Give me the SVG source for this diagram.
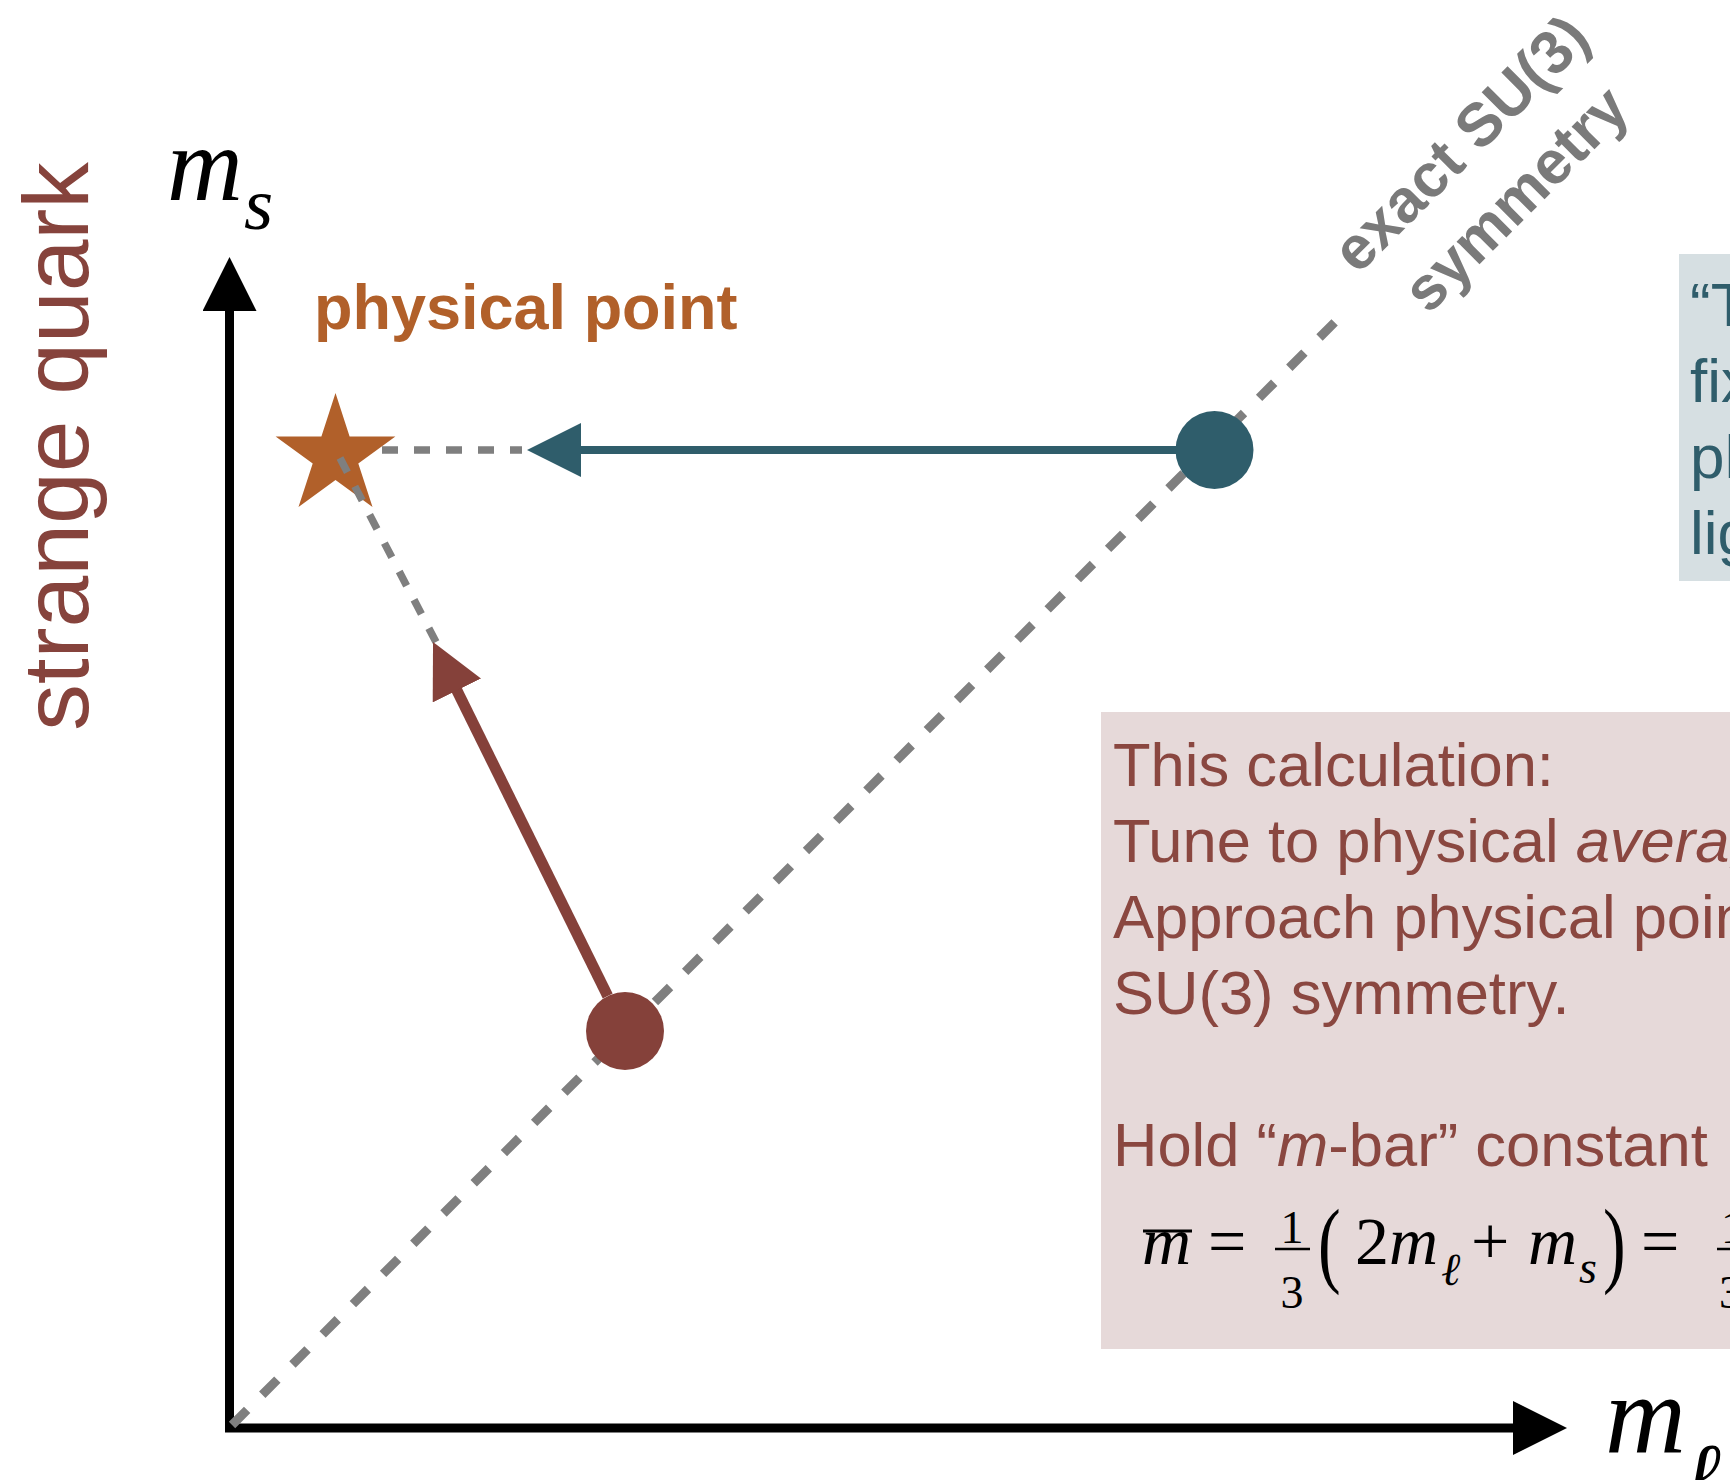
<svg xmlns="http://www.w3.org/2000/svg" width="1730" height="1480" viewBox="0 0 1730 1480">
<style>
.sans{font-family:"Liberation Sans",Arial,sans-serif}
.serif{font-family:"Liberation Serif","Times New Roman",serif}
.it{font-style:italic}
.pinkTxt{fill:#8A4740;font-size:61.5px}
.tealTxt{fill:#2F5D6B;font-size:62px}
.math{fill:#000}
.gdash{fill:none;stroke:#7F7F7F;stroke-width:7.5;stroke-dasharray:16 16}
</style>
<defs>
<marker id="ahBlack" markerUnits="userSpaceOnUse" viewBox="0 0 54 54" markerWidth="54" markerHeight="54" refX="10" refY="27" orient="auto-start-reverse"><path d="M0,0 L54,27 L0,54 Z" fill="#000"/></marker>
<marker id="ahTeal" markerUnits="userSpaceOnUse" viewBox="0 0 54 54" markerWidth="54" markerHeight="54" refX="10" refY="27" orient="auto"><path d="M0,0 L54,27 L0,54 Z" fill="#2F5D6B"/></marker>
<marker id="ahBrown" markerUnits="userSpaceOnUse" viewBox="0 0 54 54" markerWidth="54" markerHeight="54" refX="10" refY="27" orient="auto"><path d="M0,0 L54,27 L0,54 Z" fill="#85413A"/></marker>
</defs>
<rect width="1730" height="1480" fill="#fff"/>

<g id="axes">
<polyline points="229.5,301 229.5,1428 1523,1428" fill="none" stroke="#000" stroke-width="9" stroke-linejoin="miter" marker-start="url(#ahBlack)" marker-end="url(#ahBlack)"/>
</g>

<g id="label-strange-quark">
<text class="sans" transform="translate(88,446.5) rotate(-90)" text-anchor="middle" font-size="93" fill="#86433C">strange quark</text>
</g>

<g id="label-ms">
<text class="serif it math" x="167" y="200" font-size="105">m</text>
<text class="serif it math" x="244" y="229" font-size="75">s</text>
</g>

<g id="label-ml">
<text class="serif it math" x="1605" y="1453" font-size="112">m</text>
<text class="serif it math" x="1684" y="1504" font-size="88">ℓ</text>
</g>

<g id="su3-line">
<line x1="229" y1="1428" x2="1335.7" y2="321.3" stroke="#7F7F7F" stroke-width="9" stroke-dasharray="21.36 21.36" stroke-dashoffset="-4.3"/>
<g transform="translate(1490,173) rotate(-45)" class="sans" font-weight="bold" font-size="61" fill="#7A7A7A" text-anchor="middle">
<text x="0" y="-21">exact SU(3)</text>
<text x="0" y="57">symmetry</text>
</g>
</g>

<g id="note-traditional">
<rect x="1679" y="254" width="51" height="327" fill="#D6DFE2"/>
<g class="sans tealTxt">
<text x="1690" y="326">“T</text>
<text x="1690" y="402">fix</text>
<text x="1690" y="478">ph</text>
<text x="1690" y="554">lig</text>
</g>
</g>

<g id="note-this-calculation">
<rect x="1101" y="712" width="629" height="637" fill="#E6D9D9"/>
<g class="sans pinkTxt">
<text x="1113" y="786">This calculation:</text>
<text x="1113" y="862">Tune to physical <tspan class="it">averag</tspan></text>
<text x="1113" y="938">Approach physical poin</text>
<text x="1113" y="1014">SU(3) symmetry.</text>
<text x="1113" y="1166">Hold “<tspan class="it">m</tspan>-bar” constant</text>
</g>
<g class="serif math">
<text class="it" x="1142" y="1264" font-size="68">m</text>
<line x1="1143" y1="1231" x2="1192" y2="1231" stroke="#000" stroke-width="3"/>
<text x="1208" y="1264" font-size="68">=</text>
<text x="1292" y="1243" font-size="46" text-anchor="middle">1</text>
<line x1="1275" y1="1249" x2="1310" y2="1249" stroke="#000" stroke-width="2.5"/>
<text x="1292" y="1308" font-size="46" text-anchor="middle">3</text>
<text transform="translate(1318,1275) scale(1,1.4)" font-size="68">(</text>
<text x="1355" y="1264" font-size="68">2</text>
<text class="it" x="1389" y="1264" font-size="68">m</text>
<text class="it" x="1441" y="1285" font-size="46">ℓ</text>
<text x="1471" y="1264" font-size="68">+</text>
<text class="it" x="1528" y="1264" font-size="68">m</text>
<text class="it" x="1579" y="1283" font-size="46">s</text>
<text transform="translate(1603,1275) scale(1,1.4)" font-size="68">)</text>
<text x="1641" y="1264" font-size="68">=</text>
<text x="1721" y="1243" font-size="46">1</text>
<line x1="1717" y1="1249" x2="1760" y2="1249" stroke="#000" stroke-width="2.5"/>
<text x="1719" y="1308" font-size="46">3</text>
</g>
</g>

<g id="node-su3-start">
<circle cx="1214.5" cy="450" r="39" fill="#2F5D6B"/>
</g>

<g id="node-mbar-start">
<circle cx="625" cy="1031" r="39" fill="#85413A"/>
</g>

<g id="node-physical-point">
<polygon points="335.5,393 349.6,436.6 395.4,436.5 358.3,463.4 372.5,507 335.5,480 298.5,507 312.7,463.4 275.6,436.5 321.4,436.6" fill="#B1602A"/>
<text class="sans" x="314" y="329" font-size="63" font-weight="bold" fill="#B1602A">physical point</text>
</g>

<g id="connectors">
<line x1="380" y1="450" x2="522" y2="450" class="gdash" stroke-dashoffset="-2"/>
<line x1="340" y1="458" x2="436" y2="642" class="gdash"/>
<line x1="1176" y1="450" x2="571" y2="450" stroke="#2F5D6B" stroke-width="8" marker-end="url(#ahTeal)"/>
<line x1="607.7" y1="996" x2="452.5" y2="681.5" stroke="#85413A" stroke-width="11" marker-end="url(#ahBrown)"/>
</g>
</svg>
